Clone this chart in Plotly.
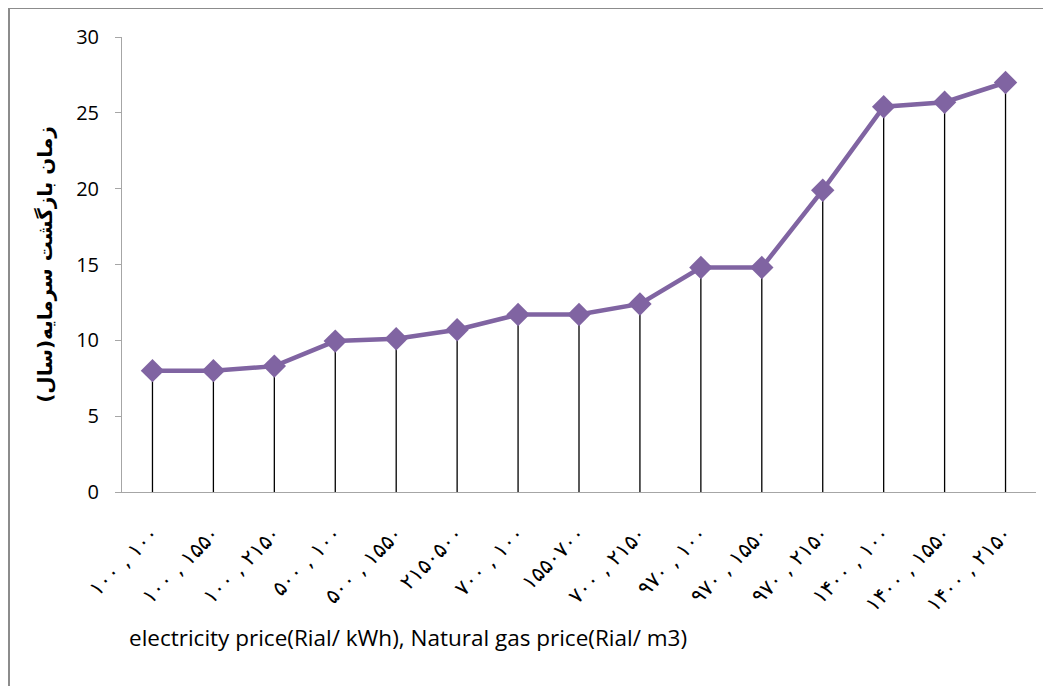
import plotly.graph_objects as go

# price pairs (electricity, gas) as printed on the chart
categories = [
    "۱۰۰ , ۱۰۰",
    "۱۰۰ , ۱۵۵۰",
    "۱۰۰ , ۲۱۵۰",
    "۵۰۰ , ۱۰۰",
    "۵۰۰ , ۱۵۵۰",
    "۲۱۵۰۵۰۰",
    "۷۰۰ , ۱۰۰",
    "۱۵۵۰۷۰۰",
    "۷۰۰ , ۲۱۵۰",
    "۹۷۰ , ۱۰۰",
    "۹۷۰ , ۱۵۵۰",
    "۹۷۰ , ۲۱۵۰",
    "۱۴۰۰ , ۱۰۰",
    "۱۴۰۰ , ۱۵۵۰",
    "۱۴۰۰ , ۲۱۵۰",
]
payback_years = [8.0, 8.0, 8.3, 9.95, 10.1, 10.7, 11.7, 11.7, 12.4, 14.8, 14.8, 19.9, 25.4, 25.7, 27.0]
zeros = [0] * len(payback_years)

purple = "#8064A2"
axis_grey = "#A6A6A6"

# the page body adds an 8px offset, so the figure is a bit smaller
W, H = 1035, 678
L, R, T, B = 114, 7, 29, 194
pw, ph = W - L - R, H - T - B

fig = go.Figure()

# drop lines from each point down to the axis
fig.add_trace(
    go.Scatter(
        x=categories,
        y=payback_years,
        mode="markers",
        marker=dict(size=0.1, color="black", opacity=0),
        error_y=dict(
            type="data",
            symmetric=False,
            array=zeros,
            arrayminus=payback_years,
            width=0,
            thickness=1.3,
            color="black",
        ),
        showlegend=False,
        hoverinfo="skip",
    )
)

fig.add_trace(
    go.Scatter(
        x=categories,
        y=payback_years,
        mode="lines+markers",
        line=dict(color=purple, width=4.5),
        marker=dict(symbol="diamond", size=18, color=purple),
        showlegend=False,
    )
)

fig.update_layout(
    width=W,
    height=H,
    paper_bgcolor="white",
    plot_bgcolor="white",
    margin=dict(l=L, r=R, t=T, b=B, autoexpand=False),
    xaxis=dict(
        type="category",
        range=[-0.5, 14.5],
        showgrid=False,
        showline=True,
        linecolor=axis_grey,
        linewidth=1,
        ticks="",
        tickangle=-45,
        ticklabelstandoff=20,
        tickfont=dict(family="DejaVu Sans", size=21, color="black"),
    ),
    yaxis=dict(
        range=[0, 30],
        dtick=5,
        showgrid=False,
        zeroline=False,
        showline=True,
        linecolor=axis_grey,
        linewidth=1,
        ticks="outside",
        ticklen=6,
        tickcolor=axis_grey,
        ticklabelstandoff=12,
        tickfont=dict(family="Open Sans", size=20, color="black"),
        title=dict(
            text="<b>زمان بازگشت سرمایه(سال)</b>",
            font=dict(family="DejaVu Sans", size=20, color="black"),
            standoff=18,
        ),
    ),
    annotations=[
        dict(
            text="electricity price(Rial/ kWh), Natural gas price(Rial/ m3)",
            xref="paper",
            yref="paper",
            x=(119 - L) / pw,
            y=-(629 - (H - B)) / ph,
            xanchor="left",
            yanchor="middle",
            showarrow=False,
            font=dict(family="Open Sans", size=22.5, color="black"),
        )
    ],
    shapes=[
        # outer chart frame (left and top edges visible)
        dict(
            type="rect",
            xref="paper",
            yref="paper",
            x0=(1 - L) / pw,
            x1=1.2,
            y0=-0.6,
            y1=1 + (T - 0) / ph,
            line=dict(color="#8C8C8C", width=2),
            layer="below",
        )
    ],
)

fig.write_html("out.html")
